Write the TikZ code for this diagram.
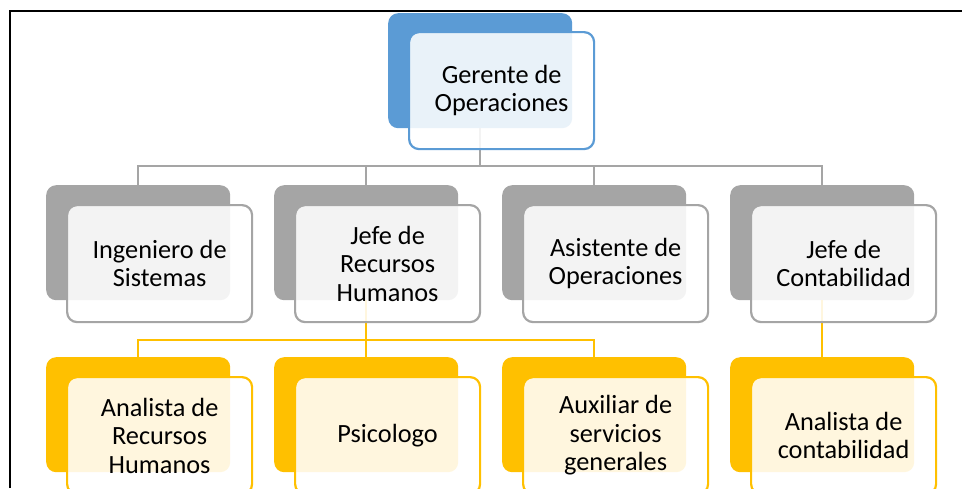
\documentclass[tikz,border=0pt]{standalone}
\usepackage{fontspec}
\setmainfont{Carlito}
\definecolor{cblue}{HTML}{5B9BD5}
\definecolor{cgray}{HTML}{A5A5A5}
\definecolor{cgold}{HTML}{FFC000}
\begin{document}
\begin{tikzpicture}[x=1pt,y=-1pt,
 back/.style={anchor=north west, inner sep=0pt, minimum width=184pt, minimum height=115pt, rounded corners=10pt, fill=#1},
 front/.style={anchor=north west, inner sep=0pt, minimum width=185pt, minimum height=117pt, rounded corners=10pt, draw=#1, line width=2.2pt, fill=white, fill opacity=0.87, text opacity=1, align=center, font=\fontsize{26.3}{28.5}\selectfont, text=black},
 conn/.style={draw=#1, line width=2.2pt}]
\useasboundingbox (0,0) rectangle (962,488);
\clip (0,0) rectangle (962,488);
% back boxes
\node[back=cblue] (tb) at (388,13) {};
\node[back=cgray] (b1b) at (46,185) {};
\node[back=cgray] (b2b) at (274,185) {};
\node[back=cgray] (b3b) at (502,185) {};
\node[back=cgray] (b4b) at (730,185) {};
\node[back=cgold] (c1b) at (46,357) {};
\node[back=cgold] (c2b) at (274,357) {};
\node[back=cgold] (c3b) at (502,357) {};
\node[back=cgold] (c4b) at (730,357) {};
% connectors
\coordinate (busg) at (0,166);
\coordinate (busy) at (0,340);
\draw[conn=cgray] (tb.south) -- (tb.south |- busg);
\draw[conn=cgray] (b1b.north) -- (b1b.north |- busg) -- (b4b.north |- busg) -- (b4b.north);
\draw[conn=cgray] (b2b.north) -- (b2b.north |- busg);
\draw[conn=cgray] (b3b.north) -- (b3b.north |- busg);
\draw[conn=cgold] (b2b.south) -- (b2b.south |- busy);
\draw[conn=cgold] (c1b.north) -- (c1b.north |- busy) -- (c3b.north |- busy) -- (c3b.north);
\draw[conn=cgold] (c2b.north) -- (c2b.north |- busy);
\draw[conn=cgold] (b4b.south) -- (c4b.north);
% front boxes
\node[front=cblue] (t) at (408,31) {Gerente de\\Operaciones};
\node[front=cgray] (b1) at (66,204) {Ingeniero de\\Sistemas};
\node[front=cgray] (b2) at (294,204) {Jefe de\\Recursos\\Humanos};
\node[front=cgray] (b3) at (522,204) {Asistente de\\Operaciones};
\node[front=cgray] (b4) at (750,204) {Jefe de\\Contabilidad};
\node[front=cgold] (c1) at (66,376) {Analista de\\Recursos\\Humanos};
\node[front=cgold] (c2) at (294,376) {Psicologo};
\node[front=cgold] (c3) at (522,376) {Auxiliar de\\servicios\\generales};
\node[front=cgold] (c4) at (750,376) {Analista de\\contabilidad};
% frame
\draw[line width=2pt] (10,488) -- (10,10.5) -- (962,10.5);
\end{tikzpicture}
\end{document}
